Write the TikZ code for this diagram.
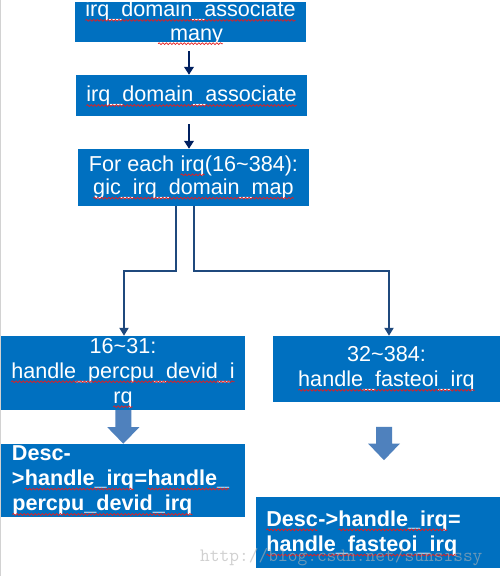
\documentclass[tikz,border=0pt]{standalone}
\usepackage{fontspec}
\setmainfont{Liberation Sans}
\usetikzlibrary{arrows.meta,calc,decorations.pathmorphing}
\definecolor{boxblue}{RGB}{0,112,192}
\definecolor{navyline}{RGB}{0,32,96}
\definecolor{linkblue}{RGB}{31,73,125}
\definecolor{fatblue}{RGB}{79,129,189}
\definecolor{squigred}{RGB}{230,30,30}
\newcommand\sq[1]{\tikz[baseline=(sqw.base)]{\node[inner sep=0pt, outer sep=0pt, anchor=base west] (sqw) {#1};
  \draw[squigred, line width=0.7pt, decorate, decoration={snake, amplitude=0.9pt, segment length=3.6pt}] ([yshift=-3.6pt]sqw.base west) -- ([yshift=-3.6pt]sqw.base east);}}
\begin{document}
\begin{tikzpicture}[x=1pt,y=-1pt,
  boxnode/.style={fill=boxblue, draw=none, inner sep=0},
  txt/.style={text=white, inner sep=0, align=center, font=\fontsize{21.6}{25}\selectfont},
  txttight/.style={txt, font=\fontsize{21.6}{23.3}\selectfont},
  txtbold/.style={text=white, inner sep=0, align=left, anchor=west, font=\bfseries\fontsize{21.6}{25.3}\selectfont},
  navyarr/.style={draw=navyline, line width=2.8pt, -{Triangle[width=9.5pt,length=8pt]}},
  linkarr/.style={draw=linkblue, line width=2.5pt, -{Triangle[width=9pt,length=8pt]}},
  fat/.style={fill=fatblue, draw=none}]
\useasboundingbox (0,0) rectangle (500,576);
\fill[white] (0,0) rectangle (500,576);
\draw[gray!35, line width=1pt] (0.5,0) -- (0.5,576);

% boxes
\node[boxnode, minimum width=231pt, minimum height=40pt] (b1) at (190.5,22) {};
\node[boxnode, minimum width=231pt, minimum height=41pt] (b2) at (191.5,95.5) {};
\node[boxnode, minimum width=231pt, minimum height=57pt] (b3) at (193.5,177.5) {};
\node[boxnode, minimum width=244pt, minimum height=74pt] (b4) at (123,373) {};
\node[boxnode, minimum width=227pt, minimum height=66pt] (b5) at (386.5,369) {};
\node[boxnode, minimum width=244pt, minimum height=73pt] (b6) at (123,480.5) {};
\node[boxnode, minimum width=244pt, minimum height=71pt] (b7) at (378,532.5) {};

% texts
\node[txttight] (t1) at ([yshift=-1pt]b1.center) {\sq{irq\_domain\_associate}\\\sq{\_many}};
\node[txt] (t2) at ([yshift=-1pt]b2.center) {\sq{irq\_domain\_associate}};
\node[txttight] (t3) at (b3.center) {For each \sq{irq}(16\textasciitilde384):\\\sq{gic\_irq\_domain\_map}};
\node[txt] (t4) at (b4.center) {16\textasciitilde31:\\\sq{handle\_percpu\_devid\_i}\\\sq{rq}};
\node[txt] (t5) at (b5.center) {32\textasciitilde384:\\\sq{handle\_fasteoi\_irq}};
\node[txtbold] (t6) at ([xshift=11pt]b6.west) {Desc-\\>\sq{handle\_irq}=\sq{handle\_}\\\sq{percpu\_devid\_irq}};
\node[txtbold] (t7) at ([xshift=10pt,yshift=-1pt]b7.west) {\sq{Desc}->\sq{handle\_irq}=\\\sq{handle\_fasteoi\_irq}};

% arrows
\draw[navyarr, shorten <=9pt] ([xshift=-1.5pt]b1.south) -- ([xshift=-1.5pt]b1.south |- b2.north);
\draw[navyarr, shorten <=8pt] ([xshift=-2.5pt]b2.south) -- ([xshift=-2.5pt]b2.south |- b3.north);
\draw[linkarr] ([xshift=-17.5pt]b3.south) |- ($(b4.north)+(1,-65)$) -- ([xshift=1pt]b4.north);
\draw[linkarr] ([xshift=0.5pt]b3.south) |- ($(b5.north)+(2.5,-65)$) -- ([xshift=2.5pt]b5.north);

% block arrows
\coordinate (fa) at ($(b4.south)+(0.3,0)$);
\fill[fat] ($(fa)+(-8,0)$) -- ($(fa)+(8,0)$) -- ($(fa)+(8,17)$) -- ($(fa)+(16,17)$) -- ($(fa)+(0,33.5)$) -- ($(fa)+(-16,17)$) -- ($(fa)+(-8,17)$) -- cycle;
\coordinate (fb) at ($(b5.south)+(-2.5,24.7)$);
\fill[fat] ($(fb)+(-8,0)$) -- ($(fb)+(8,0)$) -- ($(fb)+(8,16.6)$) -- ($(fb)+(16,16.6)$) -- ($(fb)+(0,33.3)$) -- ($(fb)+(-16,16.6)$) -- ($(fb)+(-8,16.6)$) -- cycle;

% watermark
\node[anchor=base west, inner sep=0, text=gray!60, opacity=0.6, font=\ttfamily\fontsize{18.9}{20}\selectfont] (wm) at (200,561.5) {http://blog.csdn.net/sunsissy};
\end{tikzpicture}
\end{document}
